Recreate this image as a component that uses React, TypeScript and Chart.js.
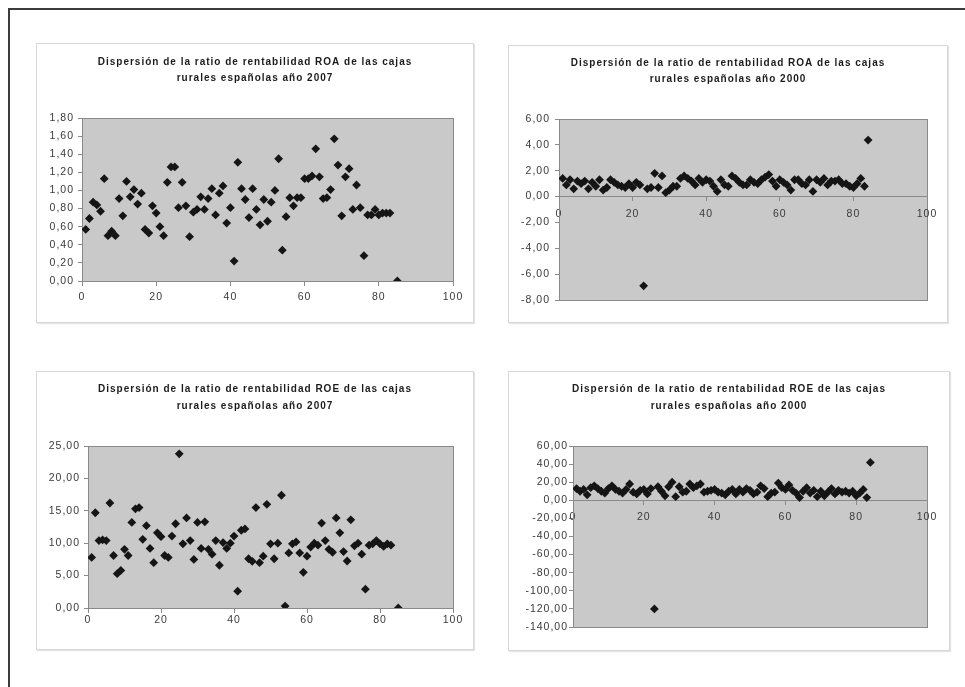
import React, { useEffect, useRef } from 'react';
import { Chart, registerables } from 'chart.js';

Chart.register(...registerables);

// ---------- data ----------
const titleROA = 'Dispersión de la ratio de rentabilidad ROA de las cajas';
const titleROE = 'Dispersión de la ratio de rentabilidad ROE de las cajas';
const title2007 = 'rurales españolas año 2007';
const title2000 = 'rurales españolas año 2000';

const xAxisTicks = [0, 20, 40, 60, 80, 100];

const cajas2007 = [
  1, 2, 3, 4, 5, 6, 7, 8, 9, 10, 11, 12, 13, 14, 15, 16, 17, 18, 19, 20,
  21, 22, 23, 24, 25, 26, 27, 28, 29, 30, 31, 32, 33, 34, 35, 36, 37, 38, 39, 40,
  41, 42, 43, 44, 45, 46, 47, 48, 49, 50, 51, 52, 53, 54, 55, 56, 57, 58, 59, 60,
  61, 62, 63, 64, 65, 66, 67, 68, 69, 70, 71, 72, 73, 74, 75, 76, 77, 78, 79, 80,
  81, 82, 83, 85,
];

const cajas2000 = [
  1, 2, 3, 4, 5, 6, 7, 8, 9, 10, 11, 12, 13, 14, 15, 16, 17, 18, 19, 20,
  21, 22, 23, 24, 25, 26, 27, 28, 29, 30, 31, 32, 33, 34, 35, 36, 37, 38, 39, 40,
  41, 42, 43, 44, 45, 46, 47, 48, 49, 50, 51, 52, 53, 54, 55, 56, 57, 58, 59, 60,
  61, 62, 63, 64, 65, 66, 67, 68, 69, 70, 71, 72, 73, 74, 75, 76, 77, 78, 79, 80,
  81, 82, 83, 84,
];

const roa2007 = [
  0.57, 0.69, 0.87, 0.84, 0.77, 1.13, 0.5, 0.55, 0.5, 0.91,
  0.72, 1.1, 0.93, 1.01, 0.85, 0.97, 0.57, 0.53, 0.83, 0.75,
  0.6, 0.5, 1.09, 1.26, 1.26, 0.81, 1.09, 0.83, 0.49, 0.76,
  0.79, 0.93, 0.79, 0.91, 1.02, 0.73, 0.97, 1.05, 0.64, 0.81,
  0.22, 1.31, 1.02, 0.9, 0.7, 1.02, 0.79, 0.62, 0.9, 0.66,
  0.87, 1.0, 1.35, 0.34, 0.71, 0.92, 0.83, 0.92, 0.92, 1.13,
  1.13, 1.16, 1.46, 1.15, 0.91, 0.92, 1.01, 1.57, 1.28, 0.72,
  1.15, 1.24, 0.79, 1.06, 0.81, 0.28, 0.73, 0.73, 0.79, 0.73,
  0.75, 0.75, 0.75, 0.0,
];

const roe2007 = [
  7.8, 14.7, 10.4, 10.5, 10.4, 16.2, 8.1, 5.3, 5.8, 9.05,
  8.1, 13.2, 15.3, 15.5, 10.6, 12.7, 9.2, 7.0, 11.6, 11.0,
  8.1, 7.8, 11.1, 13.0, 23.8, 9.9, 13.9, 10.4, 7.5, 13.2,
  9.2, 13.3, 9.05, 8.3, 10.4, 6.6, 10.1, 9.2, 10.0, 11.1,
  2.6, 12.0, 12.2, 7.6, 7.2, 15.5, 7.0, 8.0, 16.0, 9.9,
  7.6, 10.0, 17.4, 0.3, 8.5, 9.9, 10.2, 8.5, 5.5, 8.0,
  9.4, 10.0, 9.7, 13.1, 10.4, 9.05, 8.6, 13.9, 11.6, 8.7,
  7.25, 13.6, 9.6, 10.0, 8.3, 2.9, 9.7, 9.9, 10.4, 9.9,
  9.5, 9.9, 9.7, 0.0,
];

const roa2000 = [
  1.4, 0.9, 1.3, 0.6, 1.2, 1.0, 1.2, 0.6, 1.1, 0.8,
  1.3, 0.5, 0.7, 1.3, 1.1, 0.9, 0.8, 0.7, 1.0, 0.7,
  1.1, 0.9, -6.9, 0.6, 0.7, 1.8, 0.7, 1.6, 0.3, 0.5,
  0.8, 0.8, 1.4, 1.6, 1.4, 1.2, 0.9, 1.4, 1.1, 1.3,
  1.2, 0.8, 0.4, 1.3, 0.9, 0.8, 1.6, 1.4, 1.1, 0.9,
  0.9, 1.3, 1.1, 1.0, 1.3, 1.5, 1.7, 1.2, 0.8, 1.3,
  1.1, 0.9, 0.5, 1.3, 1.3, 1.0, 0.9, 1.3, 0.4, 1.3,
  1.1, 1.4, 0.9, 1.2, 1.2, 1.3, 1.0, 1.0, 0.8, 0.7,
  1.0, 1.4, 0.8, 4.37,
];

const roe2000 = [
  13, 10, 12, 6, 14, 16, 13, 10, 8, 13,
  16, 12, 10, 8, 12, 18, 9, 7, 11, 12,
  7, 13, -120, 15, 10, 5, 15, 20, 4, 15,
  9, 10, 18, 14, 16, 18, 9, 10, 11, 12,
  9, 8, 6, 10, 12, 7, 12, 9, 13, 11,
  7, 9, 16, 13, 4, 8, 9, 19, 14, 12,
  17, 11, 8, 3, 10, 14, 8, 11, 4, 10,
  5, 9, 13, 7, 11, 9, 10, 8, 10, 5,
  8, 12, 3, 41.8,
];

// y axis ranges [min, max, step]
const yRangeROA2007 = [0, 1.8, 0.2];
const yRangeROA2000 = [-8, 6, 2];
const yRangeROE2007 = [0, 25, 5];
const yRangeROE2000 = [-140, 60, 20];

// ---------- styling / layout ----------
const FONT = '"Liberation Sans", Arial, Helvetica, sans-serif';
const TEXT_COLOR = '#3a3a3a';
const AXIS_COLOR = '#8a8a8a';
const PLOT_BG = '#c9c9c9';
const MARKER = '#151515';
const LETTER_SPACING = '1px';

type PanelSpec = {
  left: number;
  top: number;
  width: number;
  height: number;
  titleLines: string[];
  xs: number[];
  ys: number[];
  yRange: number[];
  titlePadTop: number;
  titleLineHeight: number;
  titlePadBottom: number;
  rightPad: number;
  bottomPad: number;
  yAxisWidth: number;
  xLabelPad: number;
  yLabelPad: number;
};

const panels: PanelSpec[] = [
  {
    left: 36, top: 43, width: 438, height: 280,
    titleLines: [titleROA, title2007], xs: cajas2007, ys: roa2007, yRange: yRangeROA2007,
    titlePadTop: 10, titleLineHeight: 16, titlePadBottom: 32,
    rightPad: 20, bottomPad: 41, yAxisWidth: 45, xLabelPad: 6, yLabelPad: 4,
  },
  {
    left: 508, top: 45, width: 440, height: 278,
    titleLines: [titleROA, title2000], xs: cajas2000, ys: roa2000, yRange: yRangeROA2000,
    titlePadTop: 9, titleLineHeight: 16, titlePadBottom: 32,
    rightPad: 20, bottomPad: 22, yAxisWidth: 50, xLabelPad: 7, yLabelPad: 5,
  },
  {
    left: 36, top: 371, width: 438, height: 279,
    titleLines: [titleROE, title2007], xs: cajas2007, ys: roe2007, yRange: yRangeROE2007,
    titlePadTop: 9, titleLineHeight: 16.5, titlePadBottom: 32,
    rightPad: 20, bottomPad: 41, yAxisWidth: 51, xLabelPad: 2, yLabelPad: 4,
  },
  {
    left: 508, top: 371, width: 442, height: 280,
    titleLines: [titleROE, title2000], xs: cajas2000, ys: roe2000, yRange: yRangeROE2000,
    titlePadTop: 9, titleLineHeight: 16.5, titlePadBottom: 32,
    rightPad: 22, bottomPad: 23, yAxisWidth: 64, xLabelPad: 7, yLabelPad: 1,
  },
];

const fmt = (v: number | string) => Number(v).toFixed(2).replace('.', ',').replace(/^-0,00$/, '0,00');

const plotAreaPlugin = {
  id: 'plotArea',
  beforeDraw(chart: any) {
    const { ctx, chartArea: a } = chart;
    ctx.save();
    ctx.fillStyle = PLOT_BG;
    ctx.fillRect(a.left, a.top, a.right - a.left, a.bottom - a.top);
    ctx.strokeStyle = AXIS_COLOR;
    ctx.lineWidth = 1;
    ctx.strokeRect(Math.round(a.left) + 0.5, Math.round(a.top) + 0.5, Math.round(a.right - a.left), Math.round(a.bottom - a.top));
    ctx.restore();
    (ctx as any).letterSpacing = LETTER_SPACING;
  },
};

function ScatterPanel({ spec }: { spec: PanelSpec }) {
  const ref = useRef<HTMLCanvasElement>(null);
  const innerW = spec.width - 2;
  const innerH = spec.height - 2;

  useEffect(() => {
    if (!ref.current) return;
    const points = spec.xs.map((x, i) => ({ x, y: spec.ys[i] }));
    const [yMin, yMax, yStep] = spec.yRange;
    const tickFont = { family: FONT, size: 10.5 };
    const chart = new Chart(ref.current, {
      type: 'scatter',
      data: {
        datasets: [
          {
            data: points,
            pointStyle: 'rectRot',
            pointRadius: 4.4,
            pointHoverRadius: 4.4,
            pointBorderWidth: 0,
            pointBackgroundColor: MARKER,
            backgroundColor: MARKER,
            borderColor: MARKER,
          },
        ],
      },
      options: {
        responsive: false,
        animation: false,
        devicePixelRatio: 1,
        events: [],
        layout: {
          padding: { left: 0, right: 0, top: 0, bottom: spec.bottomPad },
        },
        plugins: {
          legend: { display: false },
          tooltip: { enabled: false },
          title: {
            display: true,
            text: spec.titleLines,
            color: '#1c1c1c',
            font: { family: FONT, size: 10, weight: 'bold', lineHeight: spec.titleLineHeight + 'px' },
            padding: { top: spec.titlePadTop, bottom: spec.titlePadBottom },
          },
        },
        scales: {
          x: {
            type: 'linear',
            position: { y: 0 },
            min: xAxisTicks[0],
            max: xAxisTicks[xAxisTicks.length - 1],
            afterBuildTicks: (scale: any) => {
              scale.ticks = xAxisTicks.map((v) => ({ value: v }));
            },
            ticks: {
              padding: spec.xLabelPad,
              color: TEXT_COLOR,
              font: tickFont,
              maxRotation: 0,
              autoSkip: false,
            },
            grid: { drawOnChartArea: false, drawTicks: true, tickLength: 4, color: AXIS_COLOR },
            border: { display: true, color: AXIS_COLOR },
          },
          y: {
            type: 'linear',
            position: 'left',
            min: yMin,
            max: yMax,
            afterFit: (scale: any) => {
              scale.width = spec.yAxisWidth;
            },
            ticks: {
              stepSize: yStep,
              padding: spec.yLabelPad,
              color: TEXT_COLOR,
              font: tickFont,
              callback: (v: any) => fmt(v),
            },
            grid: { drawOnChartArea: false, drawTicks: true, tickLength: 4, color: AXIS_COLOR },
            border: { display: true, color: AXIS_COLOR },
          },
          // empty spacer on the right so the title stays centred on the panel
          ySpacer: {
            type: 'linear',
            position: 'right',
            display: true,
            afterFit: (scale: any) => {
              scale.width = spec.rightPad;
            },
            ticks: { display: false },
            grid: { display: false, drawTicks: false },
            border: { display: false },
          },
        },
      } as any,
      plugins: [plotAreaPlugin],
    });
    return () => chart.destroy();
  }, [spec]);

  return (
    <div
      style={{
        position: 'absolute',
        left: spec.left,
        top: spec.top,
        width: innerW,
        height: innerH,
        border: '1px solid #d8d8d8',
        boxShadow: '1px 1px 1px #e4e4e4',
        background: '#ffffff',
      }}
    >
      <canvas ref={ref} width={innerW} height={innerH} style={{ display: 'block', width: innerW, height: innerH }} />
    </div>
  );
}

export default function App() {
  return (
    <div
      style={{
        position: 'fixed',
        left: 0,
        top: 0,
        width: 965,
        height: 687,
        background: '#ffffff',
        overflow: 'hidden',
      }}
    >
      <div
        style={{
          position: 'absolute',
          left: 8,
          top: 8,
          width: 965,
          height: 700,
          borderTop: '2px solid #3c3c3c',
          borderLeft: '2px solid #3c3c3c',
        }}
      />
      {panels.map((p, i) => (
        <ScatterPanel key={i} spec={p} />
      ))}
    </div>
  );
}
